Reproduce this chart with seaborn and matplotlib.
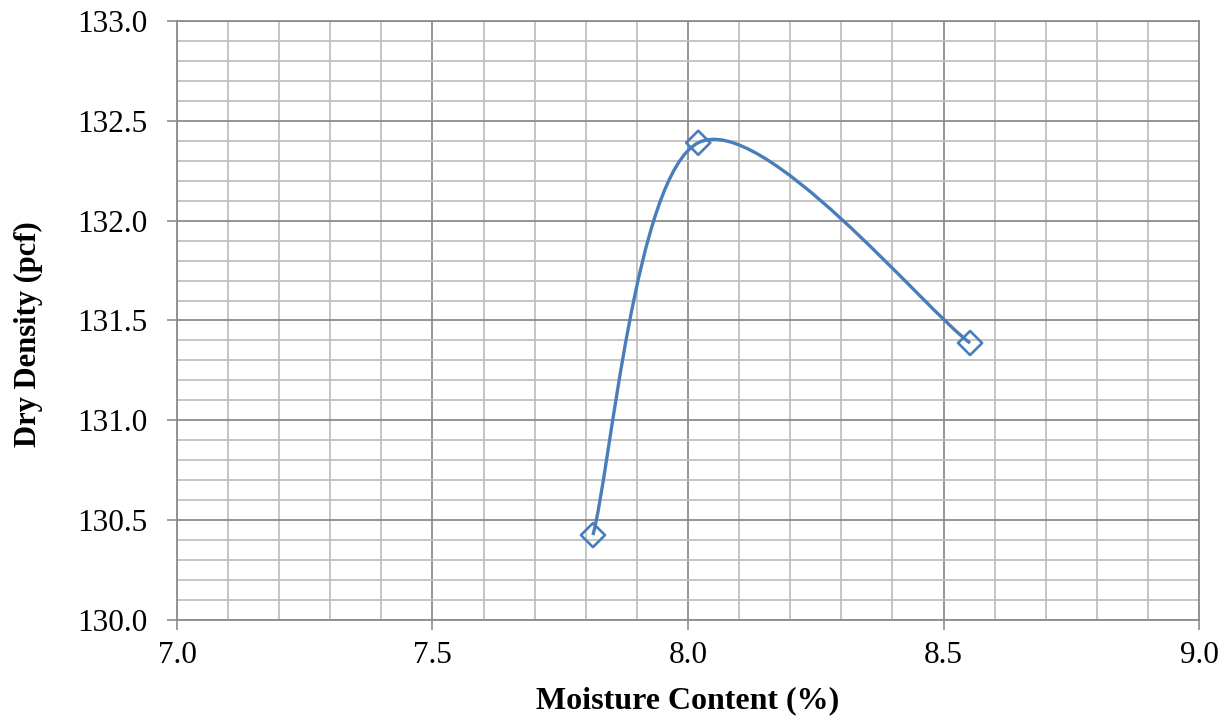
import matplotlib.pyplot as plt
import seaborn as sns
import numpy as np
import pandas as pd
from matplotlib.path import Path
from matplotlib.patches import PathPatch
from matplotlib.ticker import MultipleLocator

# Proctor test points
moisture = [7.814, 8.02, 8.552]
dry_density = [130.425, 132.39, 131.387]

x_ticks = [7.0, 7.5, 8.0, 8.5, 9.0]
y_ticks = [130.0, 130.5, 131.0, 131.5, 132.0, 132.5, 133.0]

line_color = '#4a7ebb'

sns.set_theme(style='white')
plt.rcParams['font.family'] = ['Liberation Serif', 'DejaVu Serif']

df = pd.DataFrame({'moisture': moisture, 'density': dry_density})

fig = plt.figure(figsize=(12.3, 7.23), dpi=100)
ax = fig.add_axes([0.1439, 0.1425, 0.8309, 0.8285])

# Excel-style smoothed line: Catmull-Rom segments as cubic Bezier curves
pts = np.column_stack([moisture, dry_density])
verts = [pts[0]]
codes = [Path.MOVETO]
n = len(pts)
for i in range(n - 1):
    p_prev = pts[max(i - 1, 0)]
    p0 = pts[i]
    p1 = pts[i + 1]
    p_next = pts[min(i + 2, n - 1)]
    c1 = p0 + (p1 - p_prev) / 6.0
    c2 = p1 - (p_next - p0) / 6.0
    verts += [c1, c2, p1]
    codes += [Path.CURVE4] * 3
curve = PathPatch(Path(verts, codes), facecolor='none', edgecolor=line_color,
                  linewidth=2.4, zorder=3)
ax.add_patch(curve)

sns.scatterplot(data=df, x='moisture', y='density', ax=ax, marker='D', s=150,
                facecolor='none', edgecolor=line_color, linewidth=1.9, zorder=4)

ax.set_xlim(7.0, 9.0)
ax.set_ylim(130.0, 133.0)
ax.set_xticks(x_ticks)
ax.set_yticks(y_ticks)
ax.set_xticklabels([f'{v:.1f}' for v in x_ticks])
ax.set_yticklabels([f'{v:.1f}' for v in y_ticks])
ax.xaxis.set_minor_locator(MultipleLocator(0.1))
ax.yaxis.set_minor_locator(MultipleLocator(0.1))

ax.grid(True, which='major', color='#8c8c8c', linewidth=1.3, zorder=1)
ax.grid(True, which='minor', color='#c0c0c0', linewidth=1.3, zorder=1)
ax.set_axisbelow(True)

ax.tick_params(axis='both', which='major', direction='out', length=7,
               width=1.2, color='#8c8c8c', labelsize=22.5, labelcolor='black',
               bottom=True, left=True)
ax.tick_params(axis='y', which='major', pad=14)
ax.tick_params(axis='x', which='major', pad=8)
ax.tick_params(axis='both', which='minor', length=0)

for side in ['left', 'bottom', 'top', 'right']:
    ax.spines[side].set_color('#8c8c8c')
    ax.spines[side].set_linewidth(1.3)

ax.set_xlabel('Moisture Content (%)', fontsize=23, fontweight='bold',
              color='black', labelpad=12)
ax.set_ylabel('Dry Density (pcf)', fontsize=22, fontweight='bold',
              color='black')
ax.yaxis.set_label_coords(-0.131, 0.477)

fig.savefig('out.png', dpi=100)
